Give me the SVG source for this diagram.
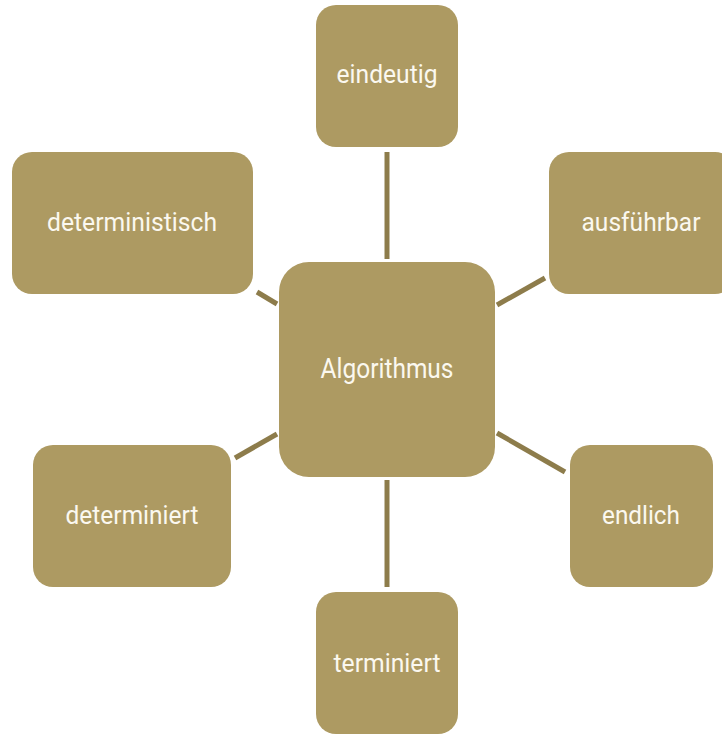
<svg xmlns="http://www.w3.org/2000/svg" width="722" height="734" viewBox="0 0 722 734">
  <style>
    .node { fill: #ad9a62; }
    .label { fill: #fbf8ef; font-family: Roboto, "Liberation Sans", sans-serif; font-size: 26px; text-anchor: middle; }
    .hub { font-size: 28px; }
    .link { stroke: #8d7c4b; stroke-width: 5; stroke-linecap: butt; fill: none; }
  </style>
  <rect width="722" height="734" fill="#ffffff"/>

  <!-- connectors from the hub to each property -->
  <g id="connectors">
    <line class="link" x1="387" y1="259" x2="387" y2="152"/>
    <line class="link" x1="387" y1="480" x2="387" y2="587"/>
    <line class="link" x1="277" y1="304" x2="257" y2="292"/>
    <line class="link" x1="497" y1="305" x2="545" y2="278"/>
    <line class="link" x1="277" y1="434" x2="235" y2="458"/>
    <line class="link" x1="497" y1="433" x2="565" y2="472"/>
  </g>

  <g id="algorithmus">
    <rect class="node" x="279" y="262" width="216" height="215" rx="30"/>
    <text class="label hub" x="387" y="378" textLength="133" lengthAdjust="spacingAndGlyphs">Algorithmus</text>
  </g>

  <g id="eindeutig">
    <rect class="node" x="316" y="5" width="142" height="142" rx="20"/>
    <text class="label" x="387" y="83" textLength="101" lengthAdjust="spacingAndGlyphs">eindeutig</text>
  </g>

  <g id="deterministisch">
    <rect class="node" x="12" y="152" width="241" height="142" rx="20"/>
    <text class="label" x="132" y="231" textLength="170" lengthAdjust="spacingAndGlyphs">deterministisch</text>
  </g>

  <g id="ausfuehrbar">
    <rect class="node" x="549" y="152" width="186" height="142" rx="20"/>
    <text class="label" x="641" y="231" textLength="119" lengthAdjust="spacingAndGlyphs">ausführbar</text>
  </g>

  <g id="determiniert">
    <rect class="node" x="33" y="445" width="198" height="142" rx="20"/>
    <text class="label" x="132" y="524" textLength="133" lengthAdjust="spacingAndGlyphs">determiniert</text>
  </g>

  <g id="endlich">
    <rect class="node" x="570" y="445" width="143" height="142" rx="20"/>
    <text class="label" x="641" y="524" textLength="78" lengthAdjust="spacingAndGlyphs">endlich</text>
  </g>

  <g id="terminiert">
    <rect class="node" x="316" y="592" width="142" height="142" rx="20"/>
    <text class="label" x="387" y="672" textLength="107" lengthAdjust="spacingAndGlyphs">terminiert</text>
  </g>
</svg>
